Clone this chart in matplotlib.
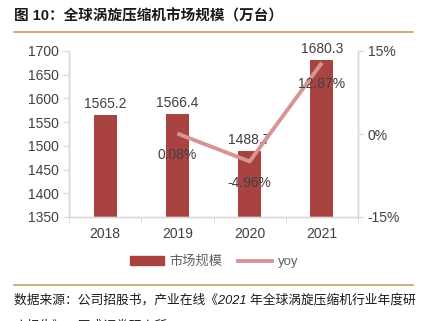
import numpy as np
import matplotlib.pyplot as plt
from matplotlib.lines import Line2D
from matplotlib.patches import Patch

plt.rcParams['font.family'] = ['Liberation Sans', 'Noto Sans CJK SC', 'DejaVu Sans']

years = ['2018', '2019', '2020', '2021']
market = [1565.2, 1566.4, 1488.7, 1680.3]
yoy_years = ['2019', '2020', '2021']
yoy = [0.08, -4.96, 12.87]

bar_color = '#a84341'
line_color = '#d69593'
text_color = '#404040'
grid_color = '#d9d9d9'

fig = plt.figure(figsize=(4.24, 3.21), dpi=100)
ax = fig.add_axes([69 / 424, 1 - 217 / 321, 289 / 424, 166 / 321])
ax2 = ax.twinx()

x = np.arange(len(years))
ax.bar(x, market, width=0.32, color=bar_color, zorder=2)
for xi, v in zip(x, market):
    ax.text(xi, v + 9, f'{v:.1f}', ha='center', va='bottom', fontsize=10,
            color=text_color)

ax.set_ylim(1350, 1700)
ax.set_yticks(np.arange(1350, 1701, 50))
ax.set_xlim(-0.5, 3.5)
ax.set_xticks(x)
ax.set_xticklabels(years)
ax.set_xticks(np.arange(-0.5, 3.6, 1), minor=True)
ax.tick_params(axis='x', which='major', length=0, pad=7)
ax.tick_params(axis='x', which='minor', length=4, color=grid_color)
ax.tick_params(axis='y', length=4, color=grid_color, pad=3)
ax.tick_params(labelsize=10, labelcolor=text_color)

xl = [years.index(y) for y in yoy_years]
ax2.plot(xl, yoy, color=line_color, lw=2.8, solid_capstyle='butt', zorder=3)
for xi, v in zip(xl, yoy):
    ax2.text(xi, v - 2.6, f'{v:.2f}%', ha='center', va='top', fontsize=10,
             color=text_color)
ax2.set_ylim(-15, 15)
ax2.set_yticks([-15, 0, 15])
ax2.set_yticklabels(['-15%', '0%', '15%'])
ax2.tick_params(axis='y', length=4, color=grid_color, labelsize=10,
                labelcolor=text_color, pad=3)

for a in (ax, ax2):
    a.spines['top'].set_visible(False)
    for s in ('left', 'right', 'bottom'):
        a.spines[s].set_color(grid_color)
        a.spines[s].set_linewidth(1)
ax.set_zorder(ax2.get_zorder() - 1)
ax2.patch.set_visible(False)

handles = [Patch(color=bar_color, label='市场规模'),
           Line2D([], [], color=line_color, lw=2.8, label='yoy')]
fig.legend(handles=handles, loc='center', bbox_to_anchor=(214 / 424, 1 - 262 / 321),
           ncol=2, frameon=False, fontsize=9.5, labelcolor='#606060',
           handlelength=2.6, handleheight=0.6, columnspacing=1.2, handletextpad=0.4)

fig.text(14 / 424, 1 - 16 / 321, '图 10：全球涡旋压缩机市场规模（万台）', fontsize=10.5,
         fontweight='bold', va='center', ha='left', color='#1a1a1a')
fig.add_artist(Line2D([14 / 424, 413 / 424], [1 - 32 / 321, 1 - 32 / 321],
                      color='#c9a063', lw=1.2))
fig.add_artist(Line2D([14 / 424, 413 / 424], [1 - 285 / 321, 1 - 285 / 321],
                      color='#c9a063', lw=1.2))
fig.text(14 / 424, 1 - 300 / 321, '数据来源：公司招股书，产业在线《2021 年全球涡旋压缩机行业年度研',
         fontsize=9.2, style='italic', va='center', ha='left', color='#1a1a1a')
fig.text(14 / 424, 1 - 326 / 321, '究报告》，国盛证券研究所',
         fontsize=9.2, style='italic', va='center', ha='left', color='#1a1a1a')

fig.savefig('out.png', dpi=100)
